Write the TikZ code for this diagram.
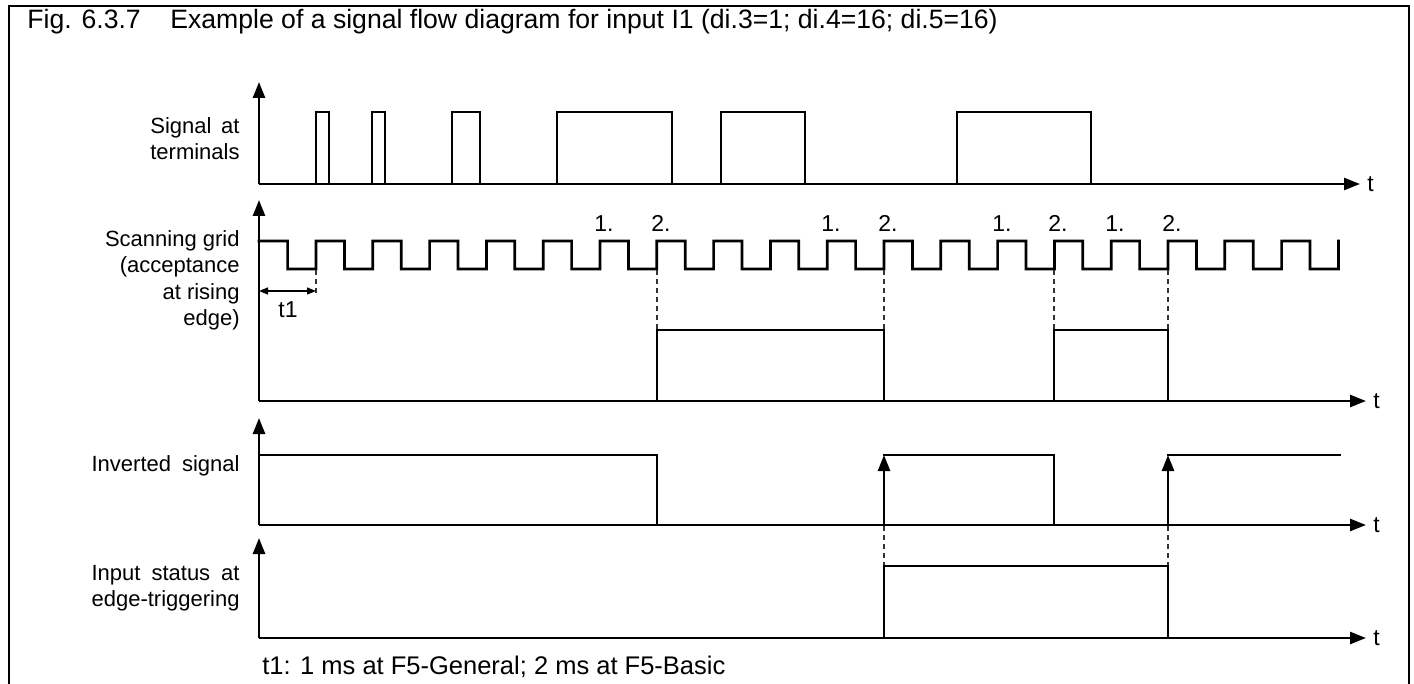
\documentclass[tikz,border=0pt]{standalone}
\usepackage{fontspec}
\setmainfont{Liberation Sans}
\usepackage{calc}
\usetikzlibrary{arrows.meta}
\begin{document}
\begin{tikzpicture}[x=0.5pt,y=-0.5pt,
  sig/.style={line width=1.35pt, line join=miter, line cap=rect},
  axis/.style={line width=1.25pt, -{Triangle[length=8pt,width=6pt]}},
  edgearrow/.style={line width=1.25pt, -{Triangle[length=8pt,width=6pt]}},
  dsh/.style={line width=0.6pt, black!80, dash pattern=on 2.5pt off 2pt},
  frameline/.style={line width=1pt},
  lbl/.style={font=\fontsize{11}{13.2}\selectfont, align=right, anchor=east, inner sep=0pt},
  tlbl/.style={font=\fontsize{11.5}{13}\selectfont, anchor=west, inner sep=0pt},
  num/.style={font=\fontsize{11.5}{13}\selectfont, anchor=base west, inner sep=0pt},
  dim/.style={line width=0.6pt, {Triangle[length=4.5pt,width=3.5pt]}-{Triangle[length=4.5pt,width=3.5pt]}}
]
\useasboundingbox (0,0) rectangle (1414,684);

% frame
\draw[frameline] (9,684) -- (9,6) -- (1409,6) -- (1409,684);

% title
\node[font=\fontsize{13.3}{15}\selectfont, anchor=base west, inner sep=0pt] (fig) at (27,29) {Fig. 6.3.7};
\node[font=\fontsize{13.3}{15}\selectfont, anchor=base west, inner sep=0pt] (title) at (170,29) {Example of a signal flow diagram for input I1 (di.3=1; di.4=16; di.5=16)};

% ---------- panel 1: signal at terminals
\coordinate (o1) at (259,184);
\coordinate (y1) at (259,82);
\coordinate (x1) at (1360,184);
\draw[axis] (o1) -- (y1);
\draw[axis] (o1) -- (x1);
\node[tlbl] (t1lab) at (1367,184) {t};
\node[lbl] (l1) at (240,138.5) {\makebox[\widthof{terminals}][s]{Signal at}\\terminals};
\foreach \a/\b in {316/329, 372/385, 452/480, 557/672, 721/805, 957/1091}{
  \draw[sig] (\a,184) -- (\a,112) -- (\b,112) -- (\b,184);
}

% ---------- panel 2: scanning grid and result
\coordinate (o2) at (259,401);
\coordinate (y2) at (259,200);
\coordinate (x2) at (1366,401);
\draw[axis] (o2) -- (y2);
\draw[axis] (o2) -- (x2);
\node[tlbl] (t2lab) at (1373,401) {t};
\node[lbl] (l2) at (240,280.5) {Scanning grid\\(acceptance\\at rising\\edge)};
\draw[sig] (259,241) -- (287.6,241)
  foreach \k in {0,...,17}{ -- ({316+56.8*\k-28.4},269) -- ({316+56.8*\k},269) -- ({316+56.8*\k},241) -- ({316+56.8*\k+28.4},241) }
  -- (1310,269) -- (1338.4,269) -- (1338.4,241);
\foreach \x/\t in {600/1., 657/2., 827/1., 884/2., 998/1., 1054/2., 1111/1., 1168/2.}{
  \node[num] at (\x-6,232) {\t};
}
\draw[sig] (657,401) -- (657,330) -- (884,330) -- (884,401);
\draw[sig] (1054,401) -- (1054,330) -- (1168,330) -- (1168,401);
\foreach \x in {657,884,1054,1168}{
  \draw[dsh] (\x,270) -- (\x,329);
}
% t1 dimension
\coordinate (d1) at (259,291);
\coordinate (d2) at (316,291);
\draw[dsh] (316,270) -- (316,294);
\draw[dim] (d1) -- (d2);
\node[font=\fontsize{11.5}{13}\selectfont, inner sep=0pt] (t1) at (288,310) {t1};

% ---------- panel 3: inverted signal
\coordinate (o3) at (259,525);
\coordinate (y3) at (259,418);
\coordinate (x3) at (1366,525);
\draw[axis] (o3) -- (y3);
\draw[axis] (o3) -- (x3);
\node[tlbl] (t3lab) at (1373,525) {t};
\node[lbl] (l3) at (240,466) {Inverted\hspace{0.5em}signal};
\draw[sig] (259,455) -- (657,455) -- (657,525);
\draw[sig] (884,455) -- (1054,455) -- (1054,525);
\draw[sig] (1168,455) -- (1340,455);
\draw[edgearrow] (884,525) -- (884,455);
\draw[edgearrow] (1168,525) -- (1168,455);

% ---------- panel 4: input status
\coordinate (o4) at (259,638);
\coordinate (y4) at (259,538);
\coordinate (x4) at (1366,638);
\draw[axis] (o4) -- (y4);
\draw[axis] (o4) -- (x4);
\node[tlbl] (t4lab) at (1373,638) {t};
\node[lbl] (l4) at (240,588) {\makebox[\widthof{edge-triggering}][s]{Input status at}\\edge-triggering};
\draw[sig] (884,638) -- (884,566) -- (1168,566) -- (1168,638);
\foreach \x in {884,1168}{
  \draw[dsh] (\x,526) -- (\x,565);
}

% footer
\node[font=\fontsize{12.75}{15}\selectfont, anchor=base west, inner sep=0pt] (foot) at (262,674) {t1: 1 ms at F5-General; 2 ms at F5-Basic};
\end{tikzpicture}
\end{document}
